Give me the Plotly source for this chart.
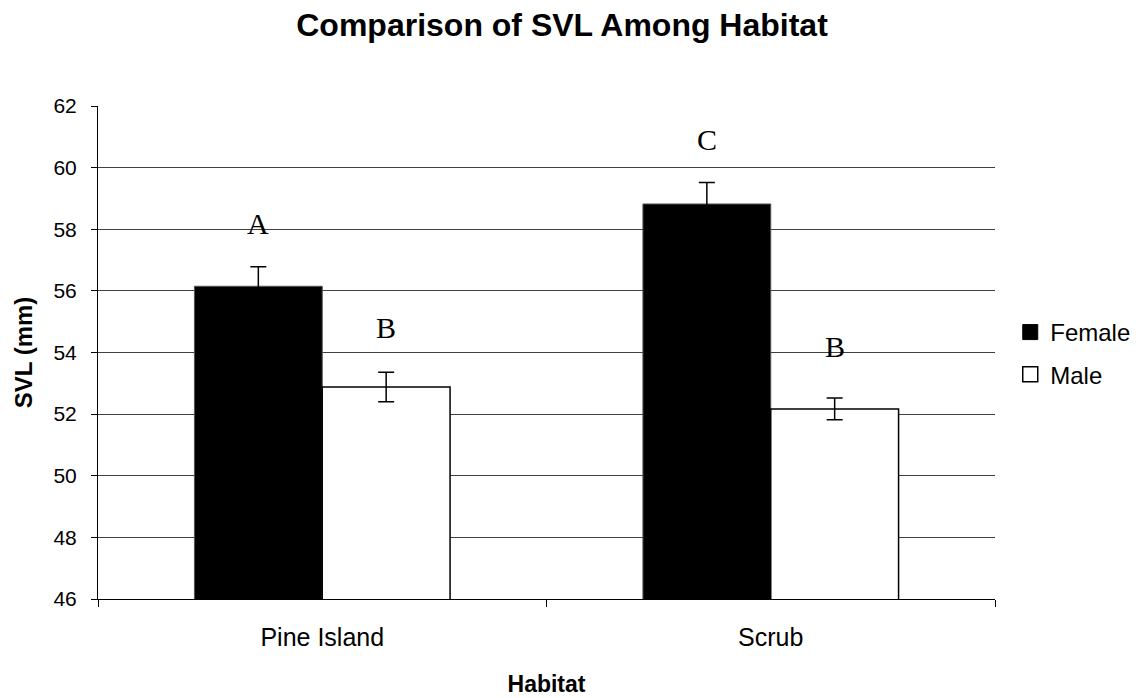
import plotly.graph_objects as go

habitats = ["Pine Island", "Scrub"]
female_svl = [56.15, 58.82]
female_err = [0.63, 0.70]
male_svl = [52.88, 52.17]
male_err = [0.48, 0.35]

# significance letters above each bar
letter_female = ["A", "C"]
letter_female_y = [58.2, 60.9]
letter_male = ["B", "B"]
letter_male_y = [54.8, 54.2]

_FONT = dict(family="Arial, Liberation Sans, sans-serif", color="black")
_SERIF = dict(family="Times New Roman, Liberation Serif, serif", size=30, color="black")

fig = go.Figure()
fig.add_trace(go.Bar(
    x=habitats, y=female_svl, name="Female", showlegend=False,
    marker=dict(color="black", line=dict(color="#555", width=1)),
    error_y=dict(type="data", array=female_err, color="black", thickness=1.5, width=8),
))
fig.add_trace(go.Bar(
    x=habitats, y=male_svl, name="Male", showlegend=False,
    marker=dict(color="white", line=dict(color="black", width=1.5)),
    error_y=dict(type="data", array=male_err, color="black", thickness=1.5, width=8),
))
# legend-only entries with larger square swatches
fig.add_trace(go.Scatter(x=[None], y=[None], mode="markers", name="Female", legendgroup="f",
                         marker=dict(symbol="square", size=15, color="black",
                                     line=dict(color="black", width=1))))
fig.add_trace(go.Scatter(x=[None], y=[None], mode="markers", name="Male", legendgroup="m",
                         marker=dict(symbol="square", size=15, color="white",
                                     line=dict(color="black", width=1.5))))

for i, h in enumerate(habitats):
    fig.add_annotation(x=h, y=letter_female_y[i], text=letter_female[i], showarrow=False,
                       xshift=-64, font=_SERIF)
    fig.add_annotation(x=h, y=letter_male_y[i], text=letter_male[i], showarrow=False,
                       xshift=64, font=_SERIF)

fig.update_layout(
    width=1133, height=690,
    margin=dict(l=90, r=146, t=98, b=99, autoexpand=False),
    paper_bgcolor="white", plot_bgcolor="white",
    font=dict(size=21, **_FONT),
    title=dict(text="<b>Comparison of SVL Among Habitat</b>", x=0.489, xanchor="center",
               y=0.976, yanchor="middle", font=dict(size=32, **_FONT)),
    barmode="group", bargap=0.43, bargroupgap=0,
    showlegend=True,
    legend=dict(x=1.017, y=0.498, xanchor="left", yanchor="middle",
                font=dict(size=24, **_FONT), tracegroupgap=8, itemwidth=30),
)
fig.update_xaxes(
    title=dict(text="<b>Habitat</b>", font=dict(size=23, **_FONT), standoff=25),
    tickfont=dict(size=25, **_FONT),
    showline=True, linecolor="black", linewidth=1,
    ticks="outside", tickson="boundaries", ticklen=7, tickcolor="black",
    ticklabelstandoff=16, automargin=False,
    showgrid=False, range=[-0.5, 1.5],
)
fig.update_yaxes(
    title=dict(text="<b>SVL (mm)</b>", font=dict(size=24, **_FONT), standoff=14),
    tickfont=dict(size=21, **_FONT),
    range=[46, 62], dtick=2,
    showline=True, linecolor="black", linewidth=1,
    ticks="outside", ticklen=6, tickcolor="black",
    ticklabelstandoff=10, automargin=False,
    showgrid=True, gridcolor="#404040", gridwidth=1,
    zeroline=False,
)

fig.write_html("out.html")
